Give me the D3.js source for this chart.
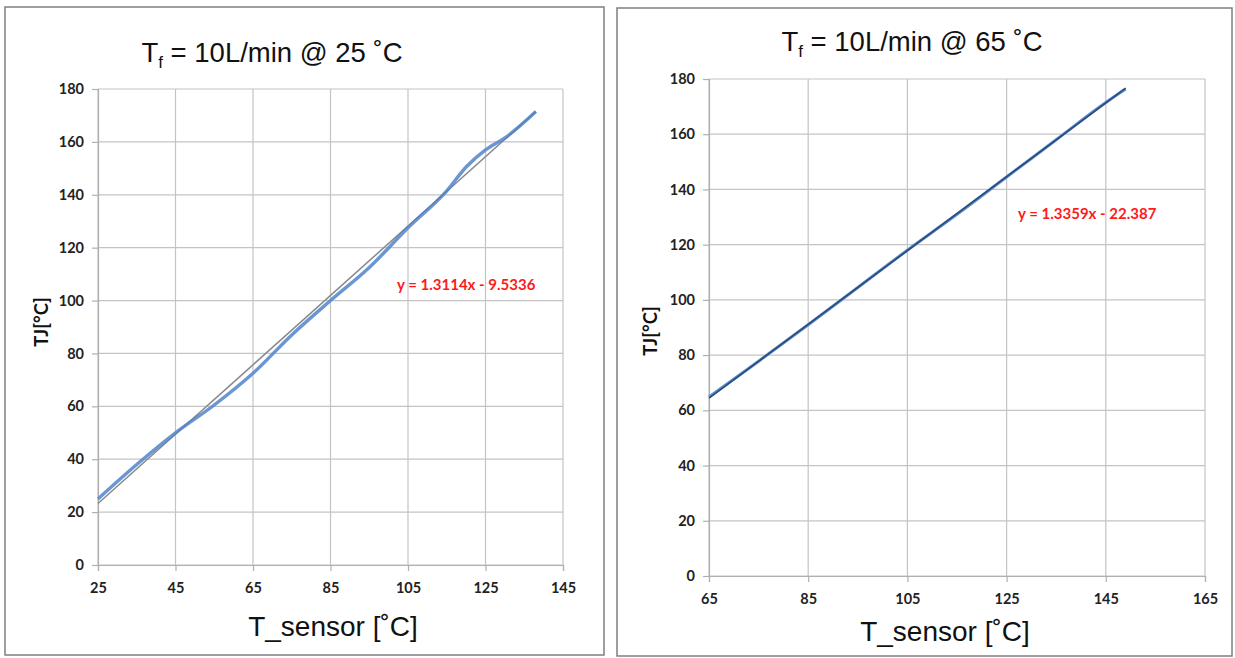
<!DOCTYPE html>
<html><head><meta charset="utf-8">
<script src="https://cdn.jsdelivr.net/npm/d3@7"></script>
<style>
html,body{margin:0;padding:0;background:#fff;}
svg{display:block;}
</style></head>
<body>
<svg id="c" width="1235" height="658"></svg>
<script>
// ---- data ----
const leftTitle = "10L/min @ 25 ˚C";
const rightTitle = "10L/min @ 65 ˚C";
const xTitle = "T_sensor [˚C]";
const yTitle = "TJ[°C]";
const leftXTicks = [25, 45, 65, 85, 105, 125, 145];
const rightXTicks = [65, 85, 105, 125, 145, 165];
const yTicks = [0, 20, 40, 60, 80, 100, 120, 140, 160, 180];
const leftX = [25, 35, 45, 55, 65, 75, 85, 95, 105, 115, 120, 125, 130, 138];
const leftY = [25, 38, 50, 60.5, 72.5, 87, 100, 112.5, 127.5, 141.5, 150.5, 157, 161.5, 171.5];
const leftTrend = {slope: 1.3114, intercept: -9.5336, x0: 25, x1: 138};
const leftEq = "y = 1.3114x - 9.5336";
const rightX = [65, 75, 85, 95, 105, 115, 125, 135, 145, 149];
const rightY = [64.8, 77.8, 91, 104.5, 118, 131, 144.5, 158, 171.5, 176.4];
const rightTrend = {slope: 1.3359, intercept: -22.387, x0: 65, x1: 149};
const rightEq = "y = 1.3359x - 22.387";

const svg = d3.select("#c");
const tickFont = "Lato, 'Open Sans', sans-serif";
const titleFont = "'Liberation Sans', Arial, sans-serif";

function panel(o) {
  const g = svg.append("g");
  g.append("rect").attr("x", o.box[0]).attr("y", o.box[1])
    .attr("width", o.box[2]).attr("height", o.box[3])
    .attr("fill", "#fff").attr("stroke", "#7f7f7f").attr("stroke-width", 1.5);
  const x = d3.scaleLinear().domain(o.xDomain).range([o.px0, o.px1]);
  const y = d3.scaleLinear().domain([0, 180]).range([o.py0, o.py1]);
  // grid
  g.append("g").selectAll("line.h").data(yTicks).join("line")
    .attr("x1", o.px0).attr("x2", o.px1)
    .attr("y1", d => y(d)).attr("y2", d => y(d))
    .attr("stroke", "#c4c4c4").attr("stroke-width", 1.2);
  g.append("g").selectAll("line.v").data(o.xTicks).join("line")
    .attr("x1", d => x(d)).attr("x2", d => x(d))
    .attr("y1", o.py0).attr("y2", o.py1)
    .attr("stroke", "#c4c4c4").attr("stroke-width", 1.2);
  // axes
  const ya = g.append("g").attr("transform", `translate(${o.px0},0)`)
    .call(d3.axisLeft(y).tickValues(yTicks).tickSize(o.tick).tickPadding(o.ypad));
  const xa = g.append("g").attr("transform", `translate(0,${o.py0})`)
    .call(d3.axisBottom(x).tickValues(o.xTicks).tickSize(o.tick).tickPadding(o.xpad));
  [ya, xa].forEach(a => {
    a.select(".domain").attr("stroke", "#b0b0b0").attr("stroke-width", 1.2);
    a.selectAll(".tick line").attr("stroke", "#b0b0b0").attr("stroke-width", 1.2);
    a.selectAll("text").attr("font-family", tickFont).attr("font-weight", "bold")
      .attr("font-size", 14.5).attr("fill", "#222");
  });
  // trend line
  const tr = o.trend;
  const line = d3.line().x(d => x(d[0])).y(d => y(d[1]));
  const data = o.xs.map((v, i) => [v, o.ys[i]]);
  const curve = d3.line().x(d => x(d[0])).y(d => y(d[1])).curve(d3.curveMonotoneX);
  const ends = [[tr.x0, tr.slope * tr.x0 + tr.intercept], [tr.x1, tr.slope * tr.x1 + tr.intercept]];
  if (o.trendUnder) {
    g.append("path").attr("d", line(ends))
      .attr("fill", "none").attr("stroke", "#9a9a9a").attr("stroke-width", 1.6);
    g.append("path").attr("d", curve(data)).attr("fill", "none")
      .attr("stroke", "#5a8cce").attr("stroke-width", 3.4).attr("stroke-opacity", 0.9);
    g.append("path").attr("d", line(ends))
      .attr("fill", "none").attr("stroke", "#2a3f5f").attr("stroke-width", 0.8).attr("stroke-opacity", 0.3);
  } else {
    g.append("path").attr("d", curve(data)).attr("fill", "none")
      .attr("stroke", "#5b8fd0").attr("stroke-width", 3);
    g.append("path").attr("d", line(ends))
      .attr("fill", "none").attr("stroke", "#2c4a78").attr("stroke-width", 1.6);
  }
  // equation
  g.append("text").attr("x", o.eq[0]).attr("y", o.eq[1]).text(o.eqText)
    .attr("font-family", tickFont).attr("font-weight", "bold").attr("font-size", 15)
    .attr("fill", "#ff1a1a");
  // title
  const t = g.append("text").attr("x", o.title[0]).attr("y", o.title[1])
    .attr("text-anchor", "middle").attr("font-family", titleFont)
    .attr("font-size", 27.5).attr("fill", "#111");
  t.append("tspan").text("T");
  t.append("tspan").attr("font-size", 17).attr("dy", 6).text("f");
  t.append("tspan").attr("dy", -6).text(" = " + o.titleText);
  // x title
  g.append("text").attr("x", o.xt[0]).attr("y", o.xt[1]).attr("text-anchor", "middle")
    .attr("font-family", titleFont).attr("font-size", 28).attr("fill", "#111").text(xTitle);
  // y title
  g.append("text").attr("transform", `translate(${o.yt[0]},${o.yt[1]}) rotate(-90)`)
    .attr("text-anchor", "middle").attr("font-family", tickFont).attr("font-weight", "bold")
    .attr("font-size", 18.5).attr("fill", "#111").text(yTitle);
}

panel({
  box: [5, 7, 599, 648], xDomain: [25, 145], px0: 98, px1: 563, py0: 565, py1: 89,
  xTicks: leftXTicks, tick: 6, ypad: 8, xpad: 12, xs: leftX, ys: leftY, trend: leftTrend,
  trendUnder: true, eq: [397, 290], eqText: leftEq, title: [272, 62], titleText: leftTitle,
  xt: [333, 636], yt: [48, 322]
});
panel({
  box: [617, 8, 615, 648], xDomain: [65, 165], px0: 709, px1: 1205, py0: 576, py1: 79,
  xTicks: rightXTicks, tick: 6, ypad: 8, xpad: 12, xs: rightX, ys: rightY, trend: rightTrend,
  trendUnder: false, eq: [1018, 219], eqText: rightEq, title: [912, 51], titleText: rightTitle,
  xt: [945, 641], yt: [657, 331]
});
</script>
</body></html>
